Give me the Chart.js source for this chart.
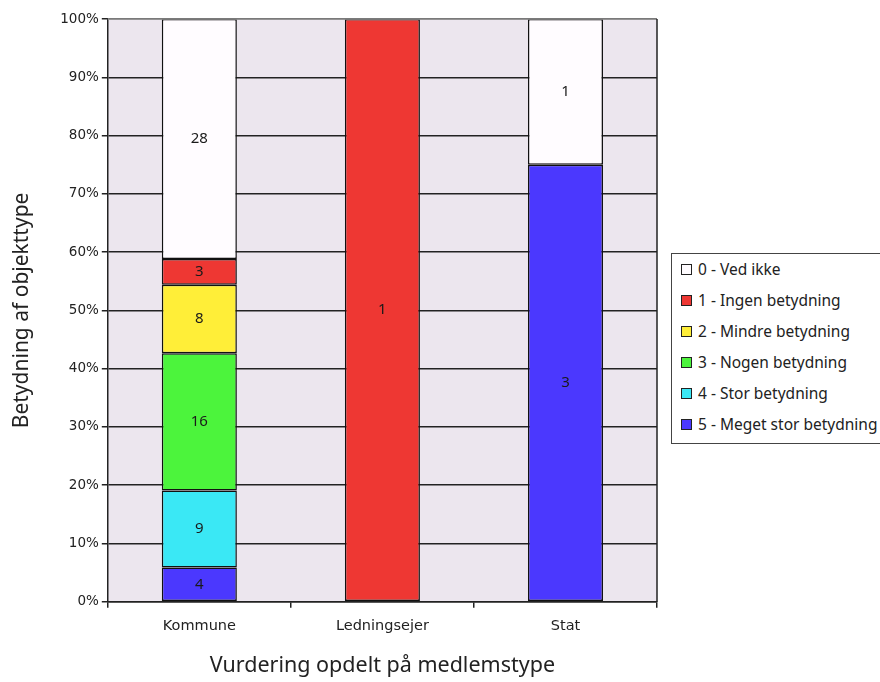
<!DOCTYPE html>
<html>
<head>
<meta charset="utf-8">
<script src="https://cdn.jsdelivr.net/npm/chart.js@4/dist/chart.umd.min.js"></script>
<style>
    html, body { margin: 0; padding: 0; background: #fff; overflow: hidden; }
    #wrap { position: relative; width: 880px; height: 682px; }
    #legend {
        position: absolute; left: 671px; top: 253px; width: 240px; height: 191px;
        border: 1px solid #444; background: #fff; box-sizing: border-box;
        font-family: "Noto Sans", sans-serif; font-size: 15.5px; color: #222;
        padding-top: 0px;
    }
    #legend .item { height: 31px; line-height: 31px; white-space: nowrap; }
    #legend .box {
        display: inline-block; width: 9px; height: 9px; border: 1px solid #222;
        margin: 0 6px 0 9px; vertical-align: 0px;
    }
</style>
</head>
<body>
<div id="wrap">
    <canvas id="chart" width="880" height="682"></canvas>
    <div id="legend"></div>
</div>
<script>
const categories = ['Kommune', 'Ledningsejer', 'Stat'];
const seriesNames = ['0 - Ved ikke', '1 - Ingen betydning', '2 - Mindre betydning',
    '3 - Nogen betydning', '4 - Stor betydning', '5 - Meget stor betydning'];
const seriesColors = ['#fffcff', '#ee3733', '#ffee38', '#4cf43c', '#3ae8f5', '#4b38fe'];

// counts per category (Kommune, Ledningsejer, Stat)
const vedIkke = [28, 0, 1];
const ingen = [3, 1, 0];
const mindre = [8, 0, 0];
const nogen = [16, 0, 0];
const stor = [9, 0, 0];
const megetStor = [4, 0, 3];

const yTicks = [0, 10, 20, 30, 40, 50, 60, 70, 80, 90, 100];

const counts = [vedIkke, ingen, mindre, nogen, stor, megetStor];
const totals = categories.map((c, i) => counts.reduce((s, arr) => s + arr[i], 0));

// stack from the bottom: 5 first, 0 last
const datasets = counts.map((arr, k) => ({
    label: seriesNames[k],
    counts: arr,
    data: arr.map((v, i) => v ? v / totals[i] * 100 : null),
    backgroundColor: seriesColors[k],
    borderColor: '#111',
    borderWidth: 1.5,
    borderSkipped: false
})).reverse();

const frame = {
    id: 'frame',
    beforeDraw(chart) {
        const { ctx, chartArea: a } = chart;
        ctx.save();
        ctx.fillStyle = '#ece6ee';
        ctx.fillRect(a.left, a.top, a.right - a.left, a.bottom - a.top);
        ctx.restore();
    },
    afterDraw(chart) {
        const { ctx, chartArea: a } = chart;
        ctx.save();
        ctx.strokeStyle = '#999';
        ctx.lineWidth = 1.5;
        ctx.beginPath();
        ctx.moveTo(a.left, a.top);
        ctx.lineTo(a.right, a.top);
        ctx.stroke();
        ctx.strokeStyle = '#222';
        ctx.beginPath();
        ctx.moveTo(a.right, a.top);
        ctx.lineTo(a.right, a.bottom);
        ctx.stroke();
        ctx.restore();
    }
};

const segLabels = {
    id: 'segLabels',
    afterDatasetsDraw(chart) {
        const { ctx } = chart;
        ctx.save();
        ctx.font = '15px "Noto Sans", sans-serif';
        ctx.fillStyle = '#1a1a1a';
        ctx.textAlign = 'center';
        ctx.textBaseline = 'middle';
        chart.data.datasets.forEach((ds, di) => {
            chart.getDatasetMeta(di).data.forEach((bar, i) => {
                const n = ds.counts[i];
                if (!n) return;
                ctx.fillText(String(n), bar.x, (bar.y + bar.base) / 2);
            });
        });
        ctx.restore();
    }
};

const chart = new Chart(document.getElementById('chart'), {
    type: 'bar',
    data: { labels: categories, datasets: datasets },
    options: {
        responsive: false,
        animation: false,
        layout: { padding: { top: 19, right: 223, bottom: 3, left: 9 } },
        plugins: { legend: { display: false }, tooltip: { enabled: false } },
        datasets: { bar: { barPercentage: 0.82, categoryPercentage: 0.5 } },
        scales: {
            x: {
                stacked: true,
                grid: { drawOnChartArea: false, color: '#222', lineWidth: 1.5, tickLength: 6 },
                border: { color: '#222', width: 1.5 },
                ticks: { color: '#222', font: { family: 'DejaVu Sans', size: 14.5 }, padding: 10 },
                title: {
                    display: true, text: 'Vurdering opdelt på medlemstype', color: '#222',
                    font: { family: 'Noto Sans', size: 21.5 }, padding: { top: 8, bottom: 0 }
                }
            },
            y: {
                stacked: true,
                min: 0, max: 100,
                afterBuildTicks: axis => { axis.ticks = yTicks.map(v => ({ value: v })); },
                grid: { color: '#222', lineWidth: 1.5, tickLength: 6 },
                border: { color: '#222', width: 1.5 },
                ticks: {
                    color: '#222', font: { family: 'DejaVu Sans', size: 13.5 }, padding: 3,
                    callback: v => v + '%'
                },
                title: {
                    display: true, text: 'Betydning af objekttype', color: '#222',
                    font: { family: 'Noto Sans', size: 21 }, padding: { top: 0, bottom: 23 }
                }
            }
        }
    },
    plugins: [frame, segLabels]
});

// legend in original order (0 .. 5)
const legend = document.getElementById('legend');
seriesNames.forEach((name, k) => {
    const row = document.createElement('div');
    row.className = 'item';
    row.innerHTML = '<span class="box" style="background:' + seriesColors[k] + '"></span>' + name;
    legend.appendChild(row);
});
</script>
</body>
</html>
